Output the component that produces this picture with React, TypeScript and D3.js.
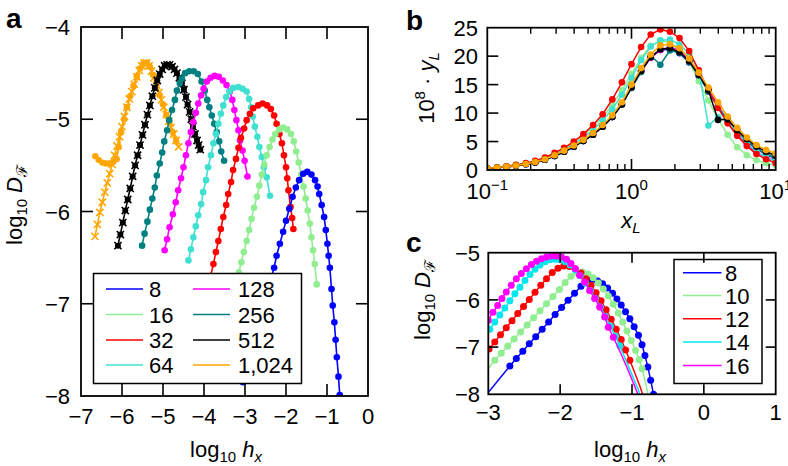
import React from 'react';
import * as d3 from 'd3';

type Pt = [number, number];

const FONT = "'Liberation Sans', Arial, Helvetica, sans-serif";
const FS = 22;
const SUB = 15;

// ---------------- Panel a data ----------------
const aLabels = ['8', '16', '32', '64', '128', '256', '512', '1,024'];
const aColors = ['#0000ff', '#90ee90', '#ff0000', '#40e0d0', '#ff00ff', '#008080', '#000000', '#ffa500'];
const aXTicks = [-7, -6, -5, -4, -3, -2, -1, 0];
const aYTicks = [-8, -7, -6, -5, -4];

const a8: Pt[] = [[-3.05,-7.85],[-2.98,-7.72],[-2.90,-7.60],[-2.83,-7.48],[-2.75,-7.35],[-2.67,-7.23],[-2.59,-7.10],[-2.52,-6.98],[-2.44,-6.86],[-2.37,-6.73],[-2.29,-6.61],[-2.23,-6.48],[-2.15,-6.35],[-2.07,-6.22],[-2.00,-6.10],[-1.92,-5.97],[-1.84,-5.84],[-1.76,-5.74],[-1.68,-5.66],[-1.58,-5.59],[-1.48,-5.57],[-1.38,-5.60],[-1.29,-5.66],[-1.23,-5.73],[-1.19,-5.81],[-1.13,-5.93],[-1.07,-6.06],[-1.03,-6.20],[-0.99,-6.35],[-0.96,-6.48],[-0.93,-6.61],[-0.89,-6.84],[-0.86,-7.02],[-0.82,-7.20],[-0.79,-7.39],[-0.76,-7.58],[-0.72,-7.79],[-0.69,-7.99],[-0.65,-8.25]];
const a16: Pt[] = [[-3.40,-7.10],[-3.33,-6.98],[-3.27,-6.88],[-3.21,-6.77],[-3.15,-6.66],[-3.09,-6.55],[-3.03,-6.44],[-2.96,-6.32],[-2.90,-6.20],[-2.84,-6.08],[-2.78,-5.96],[-2.71,-5.84],[-2.65,-5.72],[-2.59,-5.60],[-2.53,-5.49],[-2.47,-5.39],[-2.40,-5.30],[-2.33,-5.22],[-2.26,-5.16],[-2.16,-5.11],[-2.07,-5.09],[-1.97,-5.11],[-1.88,-5.16],[-1.81,-5.24],[-1.75,-5.35],[-1.69,-5.47],[-1.63,-5.60],[-1.57,-5.73],[-1.52,-5.86],[-1.47,-5.99],[-1.42,-6.13],[-1.38,-6.28],[-1.34,-6.42],[-1.30,-6.57],[-1.25,-6.79]];
const a32: Pt[] = [[-4.10,-7.20],[-4.03,-7.08],[-3.97,-6.95],[-3.91,-6.82],[-3.84,-6.70],[-3.77,-6.57],[-3.71,-6.44],[-3.65,-6.32],[-3.59,-6.19],[-3.53,-6.06],[-3.46,-5.93],[-3.41,-5.81],[-3.34,-5.68],[-3.29,-5.55],[-3.22,-5.43],[-3.16,-5.31],[-3.10,-5.20],[-3.02,-5.10],[-2.96,-5.01],[-2.88,-4.94],[-2.80,-4.88],[-2.68,-4.85],[-2.57,-4.83],[-2.46,-4.85],[-2.37,-4.89],[-2.29,-4.96],[-2.23,-5.05],[-2.16,-5.16],[-2.10,-5.26],[-2.05,-5.39],[-2.00,-5.52],[-1.97,-5.64],[-1.94,-5.77],[-1.89,-5.95],[-1.85,-6.07],[-1.82,-6.19]];
const a64: Pt[] = [[-4.38,-6.53],[-4.32,-6.41],[-4.26,-6.28],[-4.20,-6.16],[-4.14,-6.04],[-4.07,-5.92],[-4.02,-5.79],[-3.95,-5.66],[-3.90,-5.52],[-3.83,-5.39],[-3.77,-5.26],[-3.71,-5.16],[-3.65,-5.05],[-3.59,-4.94],[-3.53,-4.85],[-3.46,-4.76],[-3.38,-4.70],[-3.29,-4.66],[-3.16,-4.65],[-3.06,-4.67],[-2.96,-4.70],[-2.90,-4.78],[-2.85,-4.87],[-2.81,-4.97],[-2.76,-5.08],[-2.70,-5.19],[-2.65,-5.30],[-2.59,-5.41],[-2.54,-5.52],[-2.47,-5.63],[-2.39,-5.83]];
const a128: Pt[] = [[-4.96,-6.42],[-4.90,-6.30],[-4.84,-6.17],[-4.76,-6.03],[-4.69,-5.90],[-4.63,-5.77],[-4.56,-5.64],[-4.50,-5.52],[-4.44,-5.39],[-4.38,-5.26],[-4.32,-5.14],[-4.26,-5.03],[-4.20,-4.93],[-4.14,-4.83],[-4.07,-4.74],[-4.01,-4.67],[-3.93,-4.59],[-3.84,-4.55],[-3.74,-4.53],[-3.64,-4.54],[-3.54,-4.58],[-3.45,-4.63],[-3.37,-4.70],[-3.31,-4.79],[-3.26,-4.90],[-3.21,-5.01],[-3.16,-5.12],[-3.12,-5.23],[-3.06,-5.34],[-3.01,-5.45],[-2.94,-5.62]];
const a256: Pt[] = [[-5.51,-6.37],[-5.45,-6.24],[-5.38,-6.11],[-5.32,-5.98],[-5.26,-5.86],[-5.20,-5.74],[-5.15,-5.61],[-5.08,-5.48],[-5.02,-5.36],[-4.97,-5.24],[-4.90,-5.12],[-4.85,-5.01],[-4.78,-4.90],[-4.71,-4.79],[-4.66,-4.69],[-4.59,-4.61],[-4.54,-4.56],[-4.46,-4.50],[-4.36,-4.48],[-4.25,-4.48],[-4.15,-4.51],[-4.06,-4.59],[-3.98,-4.69],[-3.92,-4.79],[-3.87,-4.87],[-3.81,-4.96],[-3.75,-5.05],[-3.69,-5.14],[-3.63,-5.24],[-3.58,-5.35],[-3.51,-5.45]];
const a512: Pt[] = [[-6.10,-6.37],[-6.04,-6.25],[-5.98,-6.12],[-5.92,-5.99],[-5.86,-5.87],[-5.80,-5.75],[-5.74,-5.62],[-5.68,-5.50],[-5.62,-5.39],[-5.56,-5.28],[-5.50,-5.17],[-5.44,-5.06],[-5.38,-4.95],[-5.32,-4.85],[-5.26,-4.75],[-5.20,-4.66],[-5.14,-4.58],[-5.08,-4.51],[-5.02,-4.46],[-4.96,-4.42],[-4.90,-4.41],[-4.84,-4.41],[-4.78,-4.43],[-4.72,-4.46],[-4.66,-4.50],[-4.60,-4.55],[-4.54,-4.61],[-4.49,-4.68],[-4.44,-4.76],[-4.40,-4.84],[-4.35,-4.92],[-4.31,-5.00],[-4.27,-5.08],[-4.22,-5.16],[-4.17,-5.23],[-4.13,-5.28],[-4.09,-5.33]];
const a1024Cross: Pt[] = [[-6.66,-6.27],[-6.60,-6.14],[-6.54,-6.01],[-6.48,-5.90],[-6.42,-5.79],[-6.36,-5.69],[-6.30,-5.59],[-6.24,-5.49],[-6.18,-5.39],[-6.12,-5.29],[-6.06,-5.19],[-6.00,-5.08],[-5.94,-4.97],[-5.88,-4.87],[-5.82,-4.78],[-5.76,-4.70],[-5.70,-4.62],[-5.64,-4.54],[-5.58,-4.47],[-5.52,-4.42],[-5.46,-4.39],[-5.40,-4.39],[-5.34,-4.42],[-5.28,-4.48],[-5.22,-4.55],[-5.16,-4.63],[-5.10,-4.71],[-5.04,-4.79],[-4.98,-4.87],[-4.92,-4.95],[-4.86,-5.02],[-4.80,-5.09],[-4.74,-5.16],[-4.68,-5.23],[-4.62,-5.30]];
const a1024Dot: Pt[] = [[-6.65,-5.40],[-6.57,-5.44],[-6.48,-5.47],[-6.39,-5.48],[-6.30,-5.48],[-6.21,-5.46],[-6.13,-5.43],[-6.08,-5.30],[-6.02,-5.14],[-5.95,-5.00],[-5.88,-4.87],[-5.80,-4.75],[-5.72,-4.64],[-5.64,-4.54],[-5.56,-4.45],[-5.48,-4.40],[-5.40,-4.39],[-5.32,-4.43],[-5.24,-4.52],[-5.16,-4.63],[-5.08,-4.74],[-5.00,-4.84],[-4.92,-4.95],[-4.84,-5.04],[-4.76,-5.14],[-4.68,-5.23]];

// ---------------- Panel b data ----------------
const bX = [0.1, 0.117, 0.136, 0.158, 0.185, 0.215, 0.251, 0.293, 0.341, 0.398, 0.464, 0.541, 0.631, 0.736, 0.858, 1.0, 1.166, 1.359, 1.585, 1.848, 2.154, 2.512, 2.929, 3.415, 3.981, 4.642, 5.412, 6.31, 7.356, 8.577, 10.0];
const b8 = [0.25,0.40,0.55,0.75,1.00,1.30,1.80,2.45,3.20,4.10,5.10,6.20,7.60,9.30,11.60,14.60,17.50,19.80,21.10,21.20,20.50,18.90,16.50,13.80,11.10,8.70,6.70,5.00,3.70,2.70,2.00];
const b16 = [0.30,0.48,0.65,0.90,1.20,1.60,2.15,2.90,3.80,4.90,6.10,7.60,9.30,11.40,14.00,16.90,19.70,21.80,22.70,22.40,21.00,19.00,15.60,12.20,9.00,6.20,4.00,2.60,1.70,1.20,0.90];
const b32 = [0.30,0.48,0.65,0.90,1.20,1.60,2.20,3.00,3.90,5.00,6.30,7.90,9.80,12.40,15.40,18.60,21.60,23.80,24.70,24.30,23.20,20.90,17.50,14.00,10.90,8.20,6.00,4.20,2.80,1.90,1.20];
const b64 = [0.30,0.45,0.60,0.85,1.10,1.50,2.00,2.70,3.60,4.60,5.70,7.10,8.70,10.70,13.20,16.20,19.30,21.70,22.80,22.90,22.10,20.40,17.50,7.80,9.30,8.60,6.60,4.70,3.20,2.20,1.50];
const b128 = [0.25,0.40,0.55,0.75,1.00,1.30,1.80,2.45,3.20,4.10,5.10,6.20,7.60,9.30,11.50,14.50,17.40,19.70,21.10,21.60,21.00,19.40,17.00,14.20,11.30,8.50,6.20,4.40,3.10,2.20,1.60];
const b256 = [0.25,0.40,0.55,0.75,1.00,1.30,1.80,2.45,3.20,4.10,5.10,6.20,7.60,9.30,11.50,14.40,17.20,20.10,18.50,21.00,20.60,19.00,16.60,13.80,11.10,8.80,6.80,5.10,3.80,2.80,2.10];
const b512 = [0.25,0.40,0.55,0.75,1.00,1.30,1.80,2.45,3.20,4.10,5.10,6.20,7.60,9.30,11.50,14.50,17.40,19.80,21.20,21.40,20.70,19.10,16.70,14.00,8.80,8.90,7.00,5.40,4.10,3.20,2.50];
const b1024 = [0.30,0.45,0.60,0.80,1.05,1.40,1.90,2.60,3.40,4.30,5.30,6.50,7.90,9.60,11.90,15.00,17.90,20.30,21.90,22.10,21.40,19.60,17.10,14.50,11.90,9.40,7.40,5.70,4.40,3.50,2.90];
const bYTicks = [0, 5, 10, 15, 20, 25];

// ---------------- Panel c data ----------------
const cLabels = ['8', '10', '12', '14', '16'];
const cColors = ['#0000ff', '#90ee90', '#ff0000', '#00e8ee', '#ff00ff'];
const cXTicks = [-3, -2, -1, 0, 1];
const cYTicks = [-8, -7, -6, -5];

const c8Lead: Pt[] = [[-3.10,-8.15],[-2.70,-7.40]];
const c8: Pt[] = [[-2.70,-7.40],[-2.61,-7.24],[-2.52,-7.09],[-2.43,-6.93],[-2.34,-6.78],[-2.25,-6.62],[-2.16,-6.47],[-2.07,-6.31],[-1.98,-6.16],[-1.89,-6.01],[-1.80,-5.86],[-1.71,-5.71],[-1.62,-5.58],[-1.55,-5.56],[-1.48,-5.60],[-1.41,-5.66],[-1.34,-5.75],[-1.27,-5.86],[-1.21,-5.98],[-1.15,-6.11],[-1.09,-6.25],[-1.03,-6.40],[-0.97,-6.57],[-0.91,-6.75],[-0.86,-6.95],[-0.82,-7.18],[-0.78,-7.42],[-0.74,-7.70],[-0.70,-8.00]];
const c8Tail: Pt[] = [[-0.70,-8.00],[-0.67,-8.20]];
const c10Lead: Pt[] = [[-3.05,-7.55],[-2.91,-7.28]];
const c10: Pt[] = [[-2.91,-7.28],[-2.82,-7.13],[-2.73,-6.98],[-2.64,-6.83],[-2.55,-6.68],[-2.46,-6.53],[-2.37,-6.38],[-2.28,-6.23],[-2.19,-6.08],[-2.10,-5.93],[-2.01,-5.78],[-1.93,-5.63],[-1.85,-5.50],[-1.77,-5.42],[-1.69,-5.41],[-1.61,-5.45],[-1.54,-5.53],[-1.47,-5.64],[-1.40,-5.77],[-1.33,-5.92],[-1.26,-6.09],[-1.19,-6.28],[-1.13,-6.47],[-1.07,-6.66],[-1.01,-6.86],[-0.95,-7.07],[-0.90,-7.27],[-0.86,-7.46]];
const c10Tail: Pt[] = [[-0.86,-7.46],[-0.82,-7.70],[-0.78,-7.98],[-0.76,-8.15]];
const c12: Pt[] = [[-2.99,-7.04],[-2.91,-6.89],[-2.83,-6.74],[-2.75,-6.59],[-2.67,-6.44],[-2.59,-6.29],[-2.51,-6.14],[-2.43,-5.99],[-2.35,-5.84],[-2.27,-5.69],[-2.19,-5.55],[-2.11,-5.42],[-2.03,-5.33],[-1.95,-5.28],[-1.87,-5.29],[-1.79,-5.34],[-1.71,-5.43],[-1.64,-5.55],[-1.57,-5.69],[-1.50,-5.85],[-1.43,-6.02],[-1.36,-6.21],[-1.29,-6.41],[-1.22,-6.62],[-1.15,-6.84],[-1.09,-7.06],[-1.03,-7.28]];
const c12Tail: Pt[] = [[-1.03,-7.28],[-0.96,-7.55],[-0.89,-7.83],[-0.84,-8.05],[-0.82,-8.15]];
const c14: Pt[] = [[-3.05,-6.75],[-2.98,-6.62],[-2.91,-6.47],[-2.84,-6.32],[-2.77,-6.17],[-2.70,-6.02],[-2.63,-5.87],[-2.56,-5.73],[-2.49,-5.59],[-2.42,-5.46],[-2.35,-5.35],[-2.28,-5.26],[-2.21,-5.19],[-2.14,-5.15],[-2.07,-5.14],[-2.00,-5.15],[-1.93,-5.19],[-1.86,-5.26],[-1.79,-5.36],[-1.72,-5.49],[-1.65,-5.64],[-1.58,-5.80],[-1.51,-5.97],[-1.44,-6.15],[-1.37,-6.35],[-1.30,-6.56],[-1.23,-6.77],[-1.17,-6.97]];
const c14Tail: Pt[] = [[-1.17,-6.97],[-1.08,-7.30],[-0.99,-7.62],[-0.90,-7.95],[-0.86,-8.15]];
const c16: Pt[] = [[-3.00,-6.43],[-2.935,-6.26],[-2.87,-6.12],[-2.81,-5.97],[-2.75,-5.83],[-2.68,-5.69],[-2.61,-5.55],[-2.54,-5.44],[-2.47,-5.34],[-2.40,-5.25],[-2.33,-5.18],[-2.26,-5.13],[-2.19,-5.09],[-2.12,-5.07],[-2.05,-5.07],[-1.98,-5.09],[-1.91,-5.14],[-1.85,-5.23],[-1.79,-5.34],[-1.73,-5.48],[-1.66,-5.62],[-1.59,-5.80],[-1.52,-5.97],[-1.45,-6.15],[-1.38,-6.36],[-1.33,-6.58],[-1.26,-6.79]];
const c16Tail: Pt[] = [[-1.26,-6.79],[-1.16,-7.12],[-1.06,-7.47],[-0.97,-7.80],[-0.88,-8.15]];

// ---------------- helpers ----------------
type Sc = (v: number) => number;

function Dots({ pts, x, y, color, r = 3.3 }: { pts: Pt[]; x: Sc; y: Sc; color: string; r?: number }) {
  return (
    <g fill={color}>
      {pts.map((d, i) => <circle key={i} cx={x(d[0])} cy={y(d[1])} r={r} />)}
    </g>
  );
}

function Crosses({ pts, x, y, color, s = 3.6 }: { pts: Pt[]; x: Sc; y: Sc; color: string; s?: number }) {
  const d = pts.map(p => {
    const px = x(p[0]), py = y(p[1]);
    return `M${px - s},${py - s}L${px + s},${py + s}M${px - s},${py + s}L${px + s},${py - s}`;
  }).join('');
  return <path d={d} stroke={color} strokeWidth={1.6} fill="none" />;
}

function Line({ pts, x, y, color, w = 1.6 }: { pts: Pt[]; x: Sc; y: Sc; color: string; w?: number }) {
  const gen = d3.line<Pt>().x(d => x(d[0])).y(d => y(d[1]));
  return <path d={gen(pts) || ''} stroke={color} strokeWidth={w} fill="none" />;
}

const minus = (v: number) => (v < 0 ? '\u2212' + Math.abs(v) : String(v));

// ---------------- Panel a ----------------
function PanelA() {
  const x = d3.scaleLinear().domain([-7, 0]).range([81, 368]);
  const y = d3.scaleLinear().domain([-8, -4]).range([396, 27]);
  const [x0, x1] = x.range();
  const [y1, y0] = y.range();
  const tl = 12;
  const dotSeries: [Pt[], number][] = [[a256, 5], [a128, 4], [a64, 3], [a32, 2], [a16, 1], [a8, 0]];
  const legRows = [289, 314.5, 340, 365];
  return (
    <g>
      <defs>
        <clipPath id="clipA"><rect x={x0} y={y0} width={x1 - x0} height={y1 - y0} /></clipPath>
      </defs>
      <g clipPath="url(#clipA)">
        <Line pts={a1024Cross} x={x} y={y} color={aColors[7]} />
        <Crosses pts={a1024Cross} x={x} y={y} color={aColors[7]} />
        <Line pts={a1024Dot} x={x} y={y} color={aColors[7]} />
        <Dots pts={a1024Dot} x={x} y={y} color={aColors[7]} r={3.2} />
        <Line pts={a512} x={x} y={y} color={aColors[6]} />
        <Dots pts={a512} x={x} y={y} color={aColors[6]} r={3} />
        <Crosses pts={a512} x={x} y={y} color={aColors[6]} />
        {dotSeries.map(([pts, ci]) => (
          <g key={ci}>
            <Line pts={pts} x={x} y={y} color={aColors[ci]} />
            <Dots pts={pts} x={x} y={y} color={aColors[ci]} />
          </g>
        ))}
      </g>
      {/* legend */}
      <rect x={93.5} y={273.5} width={208} height={110} fill="#fff" stroke="#000" strokeWidth={1.5} />
      {aLabels.map((lab, i) => {
        const col = Math.floor(i / 4), row = i % 4;
        const lx = col === 0 ? 106 : 193;
        const tx = col === 0 ? 149 : 238;
        const ly = legRows[row];
        return (
          <g key={lab}>
            <line x1={lx} x2={lx + 37} y1={ly} y2={ly} stroke={aColors[i]} strokeWidth={1.6} />
            <text x={tx} y={ly + 8} fontSize={FS}>{lab}</text>
          </g>
        );
      })}
      {/* frame & ticks */}
      <rect x={x0} y={y0} width={x1 - x0} height={y1 - y0} fill="none" stroke="#000" strokeWidth={1.8} />
      {aXTicks.slice(1, -1).map(t => (
        <g key={t} stroke="#000" strokeWidth={1.6}>
          <line x1={x(t)} x2={x(t)} y1={y0} y2={y0 + tl} />
          <line x1={x(t)} x2={x(t)} y1={y1} y2={y1 - tl} />
        </g>
      ))}
      {aYTicks.slice(1, -1).map(t => (
        <g key={t} stroke="#000" strokeWidth={1.6}>
          <line x1={x0} x2={x0 + tl} y1={y(t)} y2={y(t)} />
          <line x1={x1} x2={x1 - tl} y1={y(t)} y2={y(t)} />
        </g>
      ))}
      {aXTicks.map(t => (
        <text key={t} x={x(t)} y={424} fontSize={FS} textAnchor="middle">{minus(t)}</text>
      ))}
      {aYTicks.map(t => (
        <text key={t} x={70} y={y(t) + 8} fontSize={FS} textAnchor="end">{minus(t)}</text>
      ))}
      <text x={226} y={457} fontSize={FS} textAnchor="middle">
        log<tspan fontSize={SUB} dy={5}>10</tspan><tspan dx={6} dy={-5} fontStyle="italic">h</tspan><tspan fontSize={SUB} dy={5} fontStyle="italic">x</tspan>
      </text>
      <text transform="translate(22,205) rotate(-90)" fontSize={FS} textAnchor="middle">
        log<tspan fontSize={SUB} dy={5}>10</tspan><tspan dx={6} dy={-5} fontStyle="italic">D</tspan><tspan fontSize={SUB} dy={5}>{'\u2131'}</tspan>
      </text>
      <text x={6} y={28} fontSize={28} fontWeight="bold">a</text>
    </g>
  );
}

// ---------------- Panel b ----------------
function PanelB() {
  const x = d3.scaleLog().domain([0.1, 10]).range([487.3, 775.7]);
  const y = d3.scaleLinear().domain([0, 25]).range([170, 27.7]);
  const [x0, x1] = x.range();
  const [y1, y0] = y.range();
  const series: [number[], string][] = [
    [b8, aColors[0]], [b16, aColors[1]], [b128, aColors[4]], [b256, aColors[5]],
    [b64, aColors[3]], [b32, aColors[2]], [b512, aColors[6]], [b1024, aColors[7]],
  ];
  const minor: number[] = [];
  [0.1, 1].forEach(d => { for (let k = 2; k <= 9; k++) minor.push(d * k); });
  const major = [1];
  return (
    <g>
      <defs>
        <clipPath id="clipB"><rect x={x0} y={y0} width={x1 - x0} height={y1 - y0} /></clipPath>
      </defs>
      <g clipPath="url(#clipB)">
        {series.map(([vals, col], i) => {
          const pts: Pt[] = vals.map((v, k) => [bX[k], v]);
          return (
            <g key={i}>
              <Line pts={pts} x={x} y={y} color={col} w={1.5} />
              <Dots pts={pts} x={x} y={y} color={col} r={3.3} />
            </g>
          );
        })}
      </g>
      <rect x={x0} y={y0} width={x1 - x0} height={y1 - y0} fill="none" stroke="#000" strokeWidth={1.8} />
      {minor.map(t => (
        <g key={t} stroke="#000" strokeWidth={1.4}>
          <line x1={x(t)} x2={x(t)} y1={y0} y2={y0 + 6} />
          <line x1={x(t)} x2={x(t)} y1={y1} y2={y1 - 6} />
        </g>
      ))}
      {major.map(t => (
        <g key={t} stroke="#000" strokeWidth={1.6}>
          <line x1={x(t)} x2={x(t)} y1={y0} y2={y0 + 11} />
          <line x1={x(t)} x2={x(t)} y1={y1} y2={y1 - 11} />
        </g>
      ))}
      {bYTicks.slice(1, -1).map(t => (
        <g key={t} stroke="#000" strokeWidth={1.6}>
          <line x1={x0} x2={x0 + 11} y1={y(t)} y2={y(t)} />
          <line x1={x1} x2={x1 - 11} y1={y(t)} y2={y(t)} />
        </g>
      ))}
      {bYTicks.map(t => (
        <text key={t} x={478} y={y(t) + 8} fontSize={FS} textAnchor="end">{t}</text>
      ))}
      {[[0.1, '\u22121'], [1, '0'], [10, '1']].map(([t, e]) => (
        <text key={String(t)} x={x(t as number)} y={199} fontSize={FS} textAnchor="middle">
          10<tspan fontSize={SUB} dy={-9}>{e as string}</tspan>
        </text>
      ))}
      <text x={631} y={228} fontSize={FS} textAnchor="middle">
        <tspan fontStyle="italic">x</tspan><tspan fontSize={SUB} dy={5} fontStyle="italic">L</tspan>
      </text>
      <text transform="translate(434,88) rotate(-90)" fontSize={FS} textAnchor="middle">
        10<tspan fontSize={SUB} dy={-9}>8</tspan><tspan dy={9}>{' \u00b7 '}</tspan><tspan fontStyle="italic">y</tspan><tspan fontSize={SUB} dy={5} fontStyle="italic">L</tspan>
      </text>
      <text x={406} y={30} fontSize={28} fontWeight="bold">b</text>
    </g>
  );
}

// ---------------- Panel c ----------------
function PanelC() {
  const x = d3.scaleLinear().domain([-3, 1]).range([488.3, 775.7]);
  const y = d3.scaleLinear().domain([-8, -5]).range([394.3, 252.7]);
  const [x0, x1] = x.range();
  const [y1, y0] = y.range();
  const series: [Pt[], Pt[], Pt[], number][] = [
    [c8Lead, c8, c8Tail, 0], [c10Lead, c10, c10Tail, 1], [[], c12, c12Tail, 2], [[], c14, c14Tail, 3], [[], c16, c16Tail, 4],
  ];
  const legRows = [272.7, 295.5, 318.7, 342, 365.5];
  return (
    <g>
      <defs>
        <clipPath id="clipC"><rect x={x0} y={y0} width={x1 - x0} height={y1 - y0} /></clipPath>
      </defs>
      <g clipPath="url(#clipC)">
        {series.map(([lead, pts, tail, ci]) => (
          <g key={ci}>
            {lead.length > 0 && <Line pts={lead} x={x} y={y} color={cColors[ci]} w={1.5} />}
            <Line pts={pts} x={x} y={y} color={cColors[ci]} w={1.5} />
            <Line pts={tail} x={x} y={y} color={cColors[ci]} w={1.5} />
            <Dots pts={pts} x={x} y={y} color={cColors[ci]} r={3.5} />
          </g>
        ))}
      </g>
      <rect x={674} y={259.5} width={88} height={124} fill="#fff" stroke="#000" strokeWidth={1.5} />
      {cLabels.map((lab, i) => (
        <g key={lab}>
          <line x1={683} x2={721.5} y1={legRows[i]} y2={legRows[i]} stroke={cColors[i]} strokeWidth={1.6} />
          <text x={725} y={legRows[i] + 8} fontSize={FS}>{lab}</text>
        </g>
      ))}
      <rect x={x0} y={y0} width={x1 - x0} height={y1 - y0} fill="none" stroke="#000" strokeWidth={1.8} />
      {cXTicks.slice(1, -1).map(t => (
        <g key={t} stroke="#000" strokeWidth={1.6}>
          <line x1={x(t)} x2={x(t)} y1={y0} y2={y0 + 10} />
          <line x1={x(t)} x2={x(t)} y1={y1} y2={y1 - 10} />
        </g>
      ))}
      {cYTicks.slice(1, -1).map(t => (
        <g key={t} stroke="#000" strokeWidth={1.6}>
          <line x1={x0} x2={x0 + 10} y1={y(t)} y2={y(t)} />
          <line x1={x1} x2={x1 - 10} y1={y(t)} y2={y(t)} />
        </g>
      ))}
      {cXTicks.map(t => (
        <text key={t} x={x(t)} y={420} fontSize={FS} textAnchor="middle">{minus(t)}</text>
      ))}
      {cYTicks.map(t => (
        <text key={t} x={480} y={y(t) + 8} fontSize={FS} textAnchor="end">{minus(t)}</text>
      ))}
      <text x={630} y={457} fontSize={FS} textAnchor="middle">
        log<tspan fontSize={SUB} dy={5}>10</tspan><tspan dx={6} dy={-5} fontStyle="italic">h</tspan><tspan fontSize={SUB} dy={5} fontStyle="italic">x</tspan>
      </text>
      <text transform="translate(430,300) rotate(-90)" fontSize={FS} textAnchor="middle">
        log<tspan fontSize={SUB} dy={5}>10</tspan><tspan dx={6} dy={-5} fontStyle="italic">D</tspan><tspan fontSize={SUB} dy={5}>{'\u2131'}</tspan>
      </text>
      <text x={406} y={252} fontSize={28} fontWeight="bold">c</text>
    </g>
  );
}

export default function App() {
  return (
    <svg width={788} height={466} style={{ position: 'absolute', left: 0, top: 0, background: '#fff' }} fontFamily={FONT}>
      <rect x={0} y={0} width={788} height={466} fill="#fff" />
      <PanelA />
      <PanelB />
      <PanelC />
    </svg>
  );
}
